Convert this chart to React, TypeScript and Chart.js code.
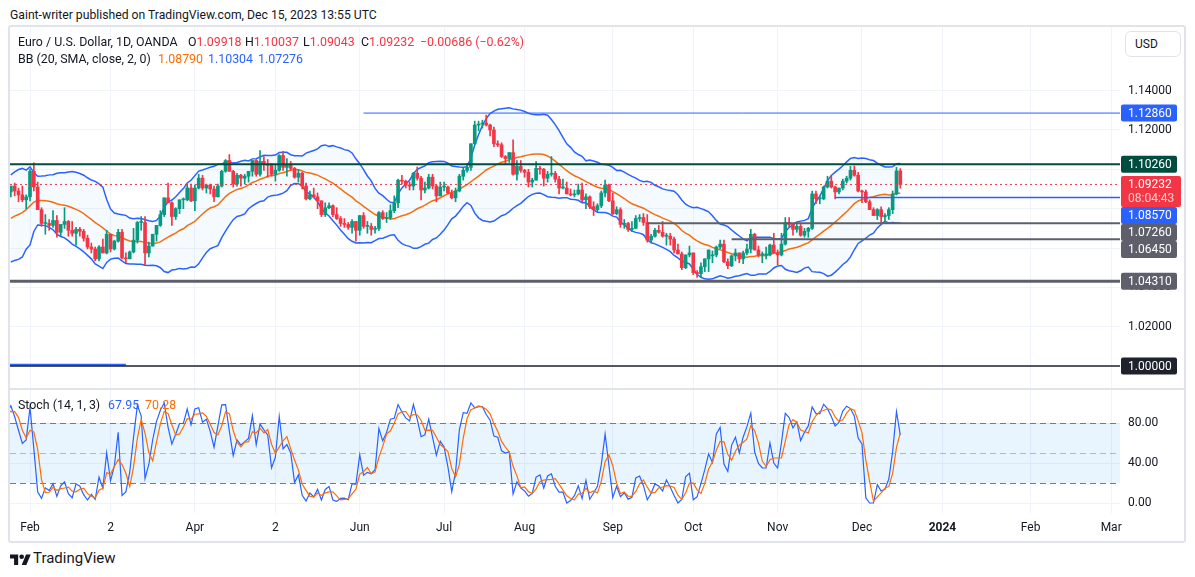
import { useEffect, useRef } from "react"
import { Chart, registerables } from "chart.js"

Chart.register(...registerables)

const FONT = "Roboto, 'Noto Sans', Arial, sans-serif"
const TEXT = "#131722"
const UP = "#089981"
const DOWN = "#F23645"
const BLUE = "#2962FF"
const ORANGE = "#FF6D00"
const GRID = "#F0F3FA"
const GRAY = "#5D606B"

// EUR/USD daily sessions (OANDA), 29 Dec 2022 .. 15 Dec 2023
// bar numbering: 1 Feb 2023 is bar 0, so the first session is bar -24
const firstBar = -24

const opens = [
  1.0613, 1.0660, 1.0700, 1.0665, 1.0550, 1.0605, 1.0520, 1.0645, 1.0730, 1.0735, 1.0760, 1.0850, 1.0830, 1.0820, 1.0790, 1.0795, 1.0830, 1.0855, 1.0870, 1.0885, 1.0915, 1.0890, 1.0870, 1.0845,
  1.0860, 1.0990, 1.0910, 1.0795, 1.0725, 1.0725, 1.0715, 1.0740, 1.0680, 1.0720, 1.0735, 1.0690, 1.0675, 1.0695, 1.0685, 1.0650, 1.0605, 1.0595, 1.0545, 1.0605,
  1.0575, 1.0670, 1.0595, 1.0635, 1.0680, 1.0550, 1.0545, 1.0580, 1.0640, 1.0730, 1.0730, 1.0575, 1.0610, 1.0670, 1.0715, 1.0770, 1.0855, 1.0830, 1.0760, 1.0800, 1.0845, 1.0845, 1.0905,
  1.0840, 1.0905, 1.0955, 1.0905, 1.0920, 1.0900, 1.0860, 1.0915, 1.0990, 1.1045, 1.0990, 1.0925, 1.0970, 1.0955, 1.0965, 1.0990, 1.1045, 1.0975, 1.1040, 1.1025,
  1.1020, 1.0975, 1.0995, 1.1070, 1.1010, 1.1020, 1.1005, 1.0960, 1.0980, 1.0915, 1.0850, 1.0870, 1.0860, 1.0840, 1.0770, 1.0805, 1.0815, 1.0770, 1.0750, 1.0725, 1.0720, 1.0705, 1.0735,
  1.0690, 1.0765, 1.0710, 1.0710, 1.0695, 1.0700, 1.0780, 1.0750, 1.0755, 1.0790, 1.0830, 1.0945, 1.0940, 1.0920, 1.0915, 1.0980, 1.0955, 1.0895, 1.0905, 1.0960, 1.0915, 1.0865,
  1.0910, 1.0910, 1.0880, 1.0855, 1.0890, 1.0965, 1.0995, 1.1010, 1.1130, 1.1225, 1.1230, 1.1235, 1.1225, 1.1200, 1.1130, 1.1125, 1.1065, 1.1055, 1.1085, 1.0975, 1.1015,
  1.0995, 1.0985, 1.0935, 1.0945, 1.1005, 1.1000, 1.0955, 1.0975, 1.0980, 1.0950, 1.0905, 1.0905, 1.0875, 1.0870, 1.0875, 1.0895, 1.0845, 1.0860, 1.0810, 1.0795, 1.0815, 1.0880, 1.0920,
  1.0840, 1.0775, 1.0795, 1.0720, 1.0725, 1.0695, 1.0700, 1.0750, 1.0755, 1.0730, 1.0640, 1.0660, 1.0690, 1.0680, 1.0660, 1.0660, 1.0645, 1.0590, 1.0570, 1.0500, 1.0565,
  1.0575, 1.0475, 1.0470, 1.0505, 1.0545, 1.0560, 1.0565, 1.0605, 1.0620, 1.0530, 1.0510, 1.0560, 1.0575, 1.0545, 1.0575, 1.0595, 1.0670, 1.0590, 1.0565, 1.0565, 1.0565, 1.0615,
  1.0575, 1.0565, 1.0620, 1.0730, 1.0720, 1.0695, 1.0710, 1.0665, 1.0685, 1.0700, 1.0875, 1.0850, 1.0850, 1.0910, 1.0940, 1.0910, 1.0885, 1.0905, 1.0940, 1.0955, 1.0995, 1.0970,
  1.0890, 1.0885, 1.0835, 1.0795, 1.0765, 1.0795, 1.0760, 1.0765, 1.0795, 1.0875, 1.09918,
]

const highs = [
  1.0673, 1.0713, 1.0713, 1.0684, 1.0636, 1.0620, 1.0650, 1.0760, 1.0760, 1.0775, 1.0865, 1.0870, 1.0875, 1.0870, 1.0887, 1.0835, 1.0860, 1.0927, 1.0885, 1.0915, 1.0930, 1.0905, 1.0915, 1.0870,
  1.1000, 1.1033, 1.0935, 1.0805, 1.0770, 1.0745, 1.0790, 1.0765, 1.0720, 1.0805, 1.0740, 1.0735, 1.0705, 1.0705, 1.0695, 1.0665, 1.0625, 1.0605, 1.0612, 1.0645,
  1.0690, 1.0670, 1.0640, 1.0695, 1.0695, 1.0575, 1.0585, 1.0700, 1.0735, 1.0760, 1.0760, 1.0630, 1.0670, 1.0715, 1.0790, 1.0855, 1.0930, 1.0835, 1.0805, 1.0845, 1.0855, 1.0925, 1.0925,
  1.0920, 1.0975, 1.0970, 1.0925, 1.0925, 1.0915, 1.0925, 1.0995, 1.1050, 1.1075, 1.0995, 1.0980, 1.0975, 1.0975, 1.0990, 1.1045, 1.1050, 1.1095, 1.1065, 1.1050,
  1.1030, 1.1025, 1.1075, 1.1092, 1.1055, 1.1040, 1.1010, 1.1000, 1.0985, 1.0930, 1.0890, 1.0905, 1.0880, 1.0840, 1.0830, 1.0830, 1.0820, 1.0805, 1.0760, 1.0750, 1.0730, 1.0745, 1.0735,
  1.0765, 1.0780, 1.0735, 1.0725, 1.0710, 1.0785, 1.0790, 1.0780, 1.0820, 1.0865, 1.0950, 1.0970, 1.0945, 1.0935, 1.0985, 1.1012, 1.0965, 1.0935, 1.0975, 1.0975, 1.0920, 1.0935,
  1.0935, 1.0915, 1.0895, 1.0905, 1.0975, 1.1005, 1.1030, 1.1130, 1.1245, 1.1245, 1.1250, 1.1276, 1.1230, 1.1215, 1.1145, 1.1135, 1.1070, 1.1085, 1.1150, 1.1045, 1.1045,
  1.1000, 1.1000, 1.0955, 1.1040, 1.1015, 1.1005, 1.0990, 1.1065, 1.0990, 1.0965, 1.0950, 1.0935, 1.0900, 1.0895, 1.0925, 1.0930, 1.0875, 1.0865, 1.0835, 1.0825, 1.0890, 1.0945, 1.0925,
  1.0880, 1.0810, 1.0805, 1.0745, 1.0730, 1.0735, 1.0765, 1.0770, 1.0775, 1.0770, 1.0670, 1.0700, 1.0715, 1.0735, 1.0675, 1.0675, 1.0655, 1.0620, 1.0580, 1.0565, 1.0610,
  1.0575, 1.0485, 1.0525, 1.0545, 1.0590, 1.0585, 1.0610, 1.0640, 1.0640, 1.0545, 1.0565, 1.0595, 1.0575, 1.0585, 1.0620, 1.0695, 1.0675, 1.0610, 1.0580, 1.0605, 1.0620, 1.0675,
  1.0590, 1.0675, 1.0755, 1.0755, 1.0725, 1.0720, 1.0720, 1.0700, 1.0705, 1.0890, 1.0890, 1.0865, 1.0915, 1.0965, 1.0965, 1.0915, 1.0905, 1.0950, 1.0965, 1.1015, 1.1017, 1.0985,
  1.0895, 1.0895, 1.0845, 1.0805, 1.0800, 1.0810, 1.0775, 1.0805, 1.0890, 1.1010, 1.10037,
]

const lows = [
  1.0610, 1.0635, 1.0653, 1.0520, 1.0550, 1.0510, 1.0483, 1.0640, 1.0710, 1.0720, 1.0740, 1.0780, 1.0800, 1.0765, 1.0765, 1.0765, 1.0800, 1.0850, 1.0835, 1.0860, 1.0865, 1.0835, 1.0835, 1.0800,
  1.0840, 1.0890, 1.0795, 1.0710, 1.0670, 1.0690, 1.0705, 1.0655, 1.0660, 1.0700, 1.0660, 1.0660, 1.0615, 1.0660, 1.0635, 1.0595, 1.0575, 1.0535, 1.0535, 1.0575,
  1.0570, 1.0580, 1.0590, 1.0630, 1.0545, 1.0525, 1.0545, 1.0575, 1.0625, 1.0690, 1.0515, 1.0555, 1.0610, 1.0635, 1.0710, 1.0760, 1.0830, 1.0715, 1.0745, 1.0775, 1.0800, 1.0840, 1.0835,
  1.0790, 1.0900, 1.0895, 1.0880, 1.0875, 1.0835, 1.0860, 1.0910, 1.0985, 1.0990, 1.0910, 1.0915, 1.0915, 1.0925, 1.0935, 1.0965, 1.0965, 1.0965, 1.0995, 1.0960,
  1.0965, 1.0940, 1.0990, 1.0995, 1.0965, 1.0995, 1.0955, 1.0935, 1.0900, 1.0845, 1.0845, 1.0855, 1.0800, 1.0760, 1.0760, 1.0800, 1.0760, 1.0745, 1.0710, 1.0705, 1.0695, 1.0675, 1.0635,
  1.0665, 1.0700, 1.0675, 1.0665, 1.0675, 1.0690, 1.0745, 1.0730, 1.0745, 1.0780, 1.0805, 1.0925, 1.0905, 1.0895, 1.0895, 1.0945, 1.0845, 1.0880, 1.0900, 1.0900, 1.0835, 1.0865,
  1.0890, 1.0875, 1.0850, 1.0835, 1.0885, 1.0945, 1.0985, 1.0995, 1.1125, 1.1195, 1.1210, 1.1220, 1.1170, 1.1115, 1.1115, 1.1060, 1.1025, 1.1035, 1.0970, 1.0945, 1.0985,
  1.0960, 1.0910, 1.0910, 1.0945, 1.0975, 1.0915, 1.0935, 1.0965, 1.0935, 1.0875, 1.0900, 1.0875, 1.0865, 1.0860, 1.0870, 1.0835, 1.0800, 1.0800, 1.0765, 1.0785, 1.0805, 1.0860, 1.0835,
  1.0770, 1.0770, 1.0705, 1.0700, 1.0685, 1.0685, 1.0700, 1.0735, 1.0715, 1.0630, 1.0630, 1.0655, 1.0675, 1.0655, 1.0615, 1.0615, 1.0575, 1.0570, 1.0490, 1.0495, 1.0555,
  1.0465, 1.0450, 1.0450, 1.0480, 1.0480, 1.0525, 1.0555, 1.0595, 1.0525, 1.0495, 1.0505, 1.0535, 1.0525, 1.0520, 1.0565, 1.0575, 1.0590, 1.0555, 1.0525, 1.0545, 1.0560, 1.0575,
  1.0515, 1.0560, 1.0615, 1.0705, 1.0665, 1.0680, 1.0660, 1.0655, 1.0655, 1.0695, 1.0825, 1.0825, 1.0845, 1.0905, 1.0905, 1.0850, 1.0875, 1.0895, 1.0930, 1.0945, 1.0965, 1.0885,
  1.0830, 1.0830, 1.0795, 1.0765, 1.0745, 1.0725, 1.0730, 1.0745, 1.0775, 1.0870, 1.09043,
]

const closes = [
  1.0660, 1.0705, 1.0665, 1.0550, 1.0605, 1.0520, 1.0645, 1.0730, 1.0735, 1.0760, 1.0850, 1.0830, 1.0820, 1.0790, 1.0795, 1.0830, 1.0855, 1.0870, 1.0885, 1.0915, 1.0890, 1.0870, 1.0845, 1.0860,
  1.0990, 1.0910, 1.0795, 1.0725, 1.0725, 1.0715, 1.0740, 1.0680, 1.0720, 1.0735, 1.0690, 1.0675, 1.0695, 1.0685, 1.0650, 1.0605, 1.0595, 1.0545, 1.0605, 1.0575,
  1.0670, 1.0595, 1.0635, 1.0680, 1.0550, 1.0545, 1.0580, 1.0640, 1.0730, 1.0730, 1.0575, 1.0610, 1.0670, 1.0715, 1.0770, 1.0855, 1.0830, 1.0760, 1.0800, 1.0845, 1.0845, 1.0905, 1.0840,
  1.0905, 1.0955, 1.0905, 1.0920, 1.0900, 1.0860, 1.0915, 1.0990, 1.1045, 1.0990, 1.0925, 1.0970, 1.0955, 1.0965, 1.0990, 1.1045, 1.0975, 1.1040, 1.1025, 1.1020,
  1.0975, 1.0995, 1.1070, 1.1010, 1.1020, 1.1005, 1.0960, 1.0980, 1.0915, 1.0850, 1.0870, 1.0860, 1.0840, 1.0770, 1.0805, 1.0815, 1.0770, 1.0750, 1.0725, 1.0720, 1.0705, 1.0735, 1.0690,
  1.0765, 1.0710, 1.0710, 1.0695, 1.0700, 1.0780, 1.0750, 1.0755, 1.0790, 1.0830, 1.0945, 1.0940, 1.0920, 1.0915, 1.0980, 1.0955, 1.0895, 1.0905, 1.0960, 1.0915, 1.0865, 1.0910,
  1.0910, 1.0880, 1.0855, 1.0890, 1.0965, 1.0995, 1.1010, 1.1130, 1.1225, 1.1230, 1.1235, 1.1225, 1.1200, 1.1130, 1.1125, 1.1065, 1.1055, 1.1085, 1.0975, 1.1015, 1.0995,
  1.0985, 1.0935, 1.0945, 1.1005, 1.1000, 1.0955, 1.0975, 1.0980, 1.0950, 1.0905, 1.0905, 1.0875, 1.0870, 1.0875, 1.0895, 1.0845, 1.0860, 1.0810, 1.0795, 1.0815, 1.0880, 1.0920, 1.0840,
  1.0775, 1.0795, 1.0720, 1.0725, 1.0695, 1.0700, 1.0750, 1.0755, 1.0730, 1.0640, 1.0660, 1.0690, 1.0680, 1.0660, 1.0660, 1.0645, 1.0590, 1.0570, 1.0500, 1.0565, 1.0575,
  1.0475, 1.0470, 1.0505, 1.0545, 1.0590, 1.0565, 1.0605, 1.0620, 1.0530, 1.0510, 1.0560, 1.0575, 1.0545, 1.0575, 1.0595, 1.0670, 1.0590, 1.0565, 1.0565, 1.0565, 1.0615, 1.0575,
  1.0565, 1.0620, 1.0730, 1.0720, 1.0695, 1.0710, 1.0665, 1.0685, 1.0700, 1.0875, 1.0850, 1.0850, 1.0910, 1.0940, 1.0910, 1.0885, 1.0905, 1.0940, 1.0955, 1.0995, 1.0970, 1.0890,
  1.0885, 1.0835, 1.0795, 1.0765, 1.0795, 1.0760, 1.0765, 1.0795, 1.0875, 1.09918, 1.09232,
]

// time axis: bar of the first session under each label
const monthBars = [0, 21, 43, 64, 86, 108, 129, 152, 173, 195, 217, 238, 261, 282]
const monthLabels = ["Feb", "2", "Apr", "2", "Jun", "Jul", "Aug", "Sep", "Oct", "Nov", "Dec", "2024", "Feb", "Mar"]

const priceTicks = [1.0, 1.02, 1.04, 1.06, 1.08, 1.1, 1.12, 1.14]
const stochTicks = [0, 40, 80]

// horizontal drawings on the price pane
const levelPrices = [1.1286, 1.1026, 1.0857, 1.0726, 1.0645, 1.0431, 1.0, 1.0006]
const levelFrom = [87, -6, 210, 161, 183, -6, -6, -6]
const levelTo = [290, 290, 290, 290, 290, 290, 290, 25]
const levelColors = [BLUE, "#004D40", BLUE, GRAY, GRAY, GRAY, "#1E222D", BLUE]
const levelWidths = [1, 2, 1.5, 2, 2, 3, 1.5, 2]

// tags on the price scale
const tagPrices = [1.1286, 1.1026, 1.0857, 1.0726, 1.0645, 1.0431, 1.0]
const tagColors = [BLUE, "#004D40", BLUE, GRAY, GRAY, GRAY, "#1E222D"]
const countdown = "08:04:43"

// legend texts
const ohlcLetters = ["O", "H", "L", "C"]
const ohlcValues = ["1.09918", "1.10037", "1.09043", "1.09232"]
const changeText = "\u22120.00686 (\u22120.62%)"
const bbValues = ["1.08790", "1.10304", "1.07276"]
const stochValues = ["67.95", "70.28"]

// visible ranges
const X_MIN = -5.22
const X_MAX = 284.3
const P_MIN = 0.98833
const P_MAX = 1.17236
const S_MIN = -10
const S_MAX = 114

const bar = (i: number) => firstBar + i

function buildSeries() {
  const wicks: any[] = []
  const bodies: any[] = []
  const colors: string[] = []
  closes.forEach((c, i) => {
    const o = opens[i]
    wicks.push({ x: bar(i), y: [lows[i], highs[i]] })
    bodies.push({ x: bar(i), y: [Math.min(o, c), Math.max(o, c)] })
    colors.push(c >= o ? UP : DOWN)
  })

  // Bollinger Bands (20, 2)
  const basis: any[] = []
  const upper: any[] = []
  const lower: any[] = []
  for (let i = 19; i < closes.length; i++) {
    const win = closes.slice(i - 19, i + 1)
    const mean = win.reduce((a, b) => a + b, 0) / 20
    const sd = Math.sqrt(win.reduce((a, b) => a + (b - mean) ** 2, 0) / 20)
    basis.push({ x: bar(i), y: mean })
    upper.push({ x: bar(i), y: mean + 2 * sd })
    lower.push({ x: bar(i), y: mean - 2 * sd })
  }

  // Stochastic (14, 1, 3)
  const k: number[] = []
  const kPts: any[] = []
  const dPts: any[] = []
  for (let i = 13; i < closes.length; i++) {
    const hh = Math.max(...highs.slice(i - 13, i + 1))
    const ll = Math.min(...lows.slice(i - 13, i + 1))
    const v = (100 * (closes[i] - ll)) / (hh - ll)
    k.push(v)
    kPts.push({ x: bar(i), y: v })
    if (k.length >= 3) {
      const n = k.length
      dPts.push({ x: bar(i), y: (k[n - 1] + k[n - 2] + k[n - 3]) / 3 })
    }
  }
  return { wicks, bodies, colors, basis, upper, lower, kPts, dPts }
}

const stochBand = {
  id: "stochBand",
  beforeDatasetsDraw(chart: any) {
    const { ctx, chartArea } = chart
    const s = chart.scales.y2
    const y80 = s.getPixelForValue(80)
    const y50 = s.getPixelForValue(50)
    const y20 = s.getPixelForValue(20)
    ctx.save()
    ctx.fillStyle = "rgba(33,150,243,0.1)"
    ctx.fillRect(chartArea.left, y80, chartArea.right - chartArea.left, y20 - y80)
    ctx.lineWidth = 1
    ctx.setLineDash([6, 4])
    const dash = (y: number, color: string) => {
      ctx.strokeStyle = color
      ctx.beginPath()
      ctx.moveTo(chartArea.left, Math.round(y) + 0.5)
      ctx.lineTo(chartArea.right, Math.round(y) + 0.5)
      ctx.stroke()
    }
    dash(y80, "#787B86")
    dash(y50, "rgba(120,123,134,0.5)")
    dash(y20, "#787B86")
    ctx.setLineDash([])
    ctx.strokeStyle = "#E0E3EB"
    ctx.lineWidth = 2
    ctx.beginPath()
    ctx.moveTo(0, s.top)
    ctx.lineTo(chart.width, s.top)
    ctx.stroke()
    ctx.restore()
  },
}

const priceTags = {
  id: "priceTags",
  afterDraw(chart: any) {
    const { ctx } = chart
    const s = chart.scales.y
    const last = closes[closes.length - 1]
    const tags = tagPrices.map((p, i) => ({ p, color: tagColors[i], lines: [p.toFixed(5)], w: 56 }))
    tags.push({ p: last, color: DOWN, lines: [last.toFixed(5), countdown], w: 60 })
    tags.sort((a, b) => b.p - a.p)
    let prevBottom = -Infinity
    ctx.save()
    ctx.font = `12px ${FONT}`
    ctx.textBaseline = "middle"
    ctx.textAlign = "left"
    for (const t of tags) {
      const h = t.lines.length === 1 ? 17 : 31
      const top = Math.max(s.getPixelForValue(t.p) - 8.5, prevBottom)
      ctx.fillStyle = t.color
      ctx.beginPath()
      ctx.roundRect(s.left + 1, top, t.w, h, 2)
      ctx.fill()
      t.lines.forEach((txt, j) => {
        ctx.fillStyle = j === 0 ? "#FFFFFF" : "rgba(255,255,255,0.75)"
        ctx.fillText(txt, s.left + 8, top + 9 + j * 14)
      })
      prevBottom = top + h
    }
    ctx.restore()
  },
}

function PriceChart() {
  const chartRef = useRef<HTMLCanvasElement>(null)
  const chartInstance = useRef<Chart | null>(null)

  useEffect(() => {
    if (!chartRef.current) return
    if (chartInstance.current) chartInstance.current.destroy()

    const d = buildSeries()
    const last = closes[closes.length - 1]

    const levelSets = levelPrices.map((p, i) => ({
      type: "line" as const,
      data: [
        { x: levelFrom[i], y: p },
        { x: levelTo[i], y: p },
      ],
      borderColor: levelColors[i],
      borderWidth: levelWidths[i],
      pointRadius: 0,
      yAxisID: "y",
      order: 0,
    }))

    const fitSide = (s: any) => {
      s.width = 64
      s.paddingTop = 0
      s.paddingBottom = 0
    }

    chartInstance.current = new Chart(chartRef.current, {
      type: "bar",
      data: {
        datasets: [
          {
            type: "line",
            data: d.upper,
            borderColor: BLUE,
            borderWidth: 1.5,
            pointRadius: 0,
            fill: "+1",
            backgroundColor: "rgba(33,150,243,0.05)",
            yAxisID: "y",
            order: 3,
          },
          {
            type: "line",
            data: d.lower,
            borderColor: BLUE,
            borderWidth: 1.5,
            pointRadius: 0,
            fill: false,
            yAxisID: "y",
            order: 3,
          },
          {
            type: "line",
            data: d.basis,
            borderColor: ORANGE,
            borderWidth: 1.5,
            pointRadius: 0,
            yAxisID: "y",
            order: 3,
          },
          {
            type: "bar",
            data: d.wicks,
            backgroundColor: d.colors,
            barThickness: 1,
            grouped: false,
            yAxisID: "y",
            order: 2,
          },
          {
            type: "bar",
            data: d.bodies,
            backgroundColor: d.colors,
            barThickness: 3,
            minBarLength: 1,
            grouped: false,
            yAxisID: "y",
            order: 1,
          },
          ...levelSets,
          {
            type: "line",
            data: [
              { x: X_MIN, y: last },
              { x: X_MAX, y: last },
            ],
            borderColor: DOWN,
            borderWidth: 1,
            borderDash: [2, 3],
            pointRadius: 0,
            yAxisID: "y",
            order: 0,
          },
          {
            type: "line",
            data: d.kPts,
            borderColor: BLUE,
            borderWidth: 1.2,
            pointRadius: 0,
            yAxisID: "y2",
            order: 1,
          },
          {
            type: "line",
            data: d.dPts,
            borderColor: ORANGE,
            borderWidth: 1.2,
            pointRadius: 0,
            yAxisID: "y2",
            order: 0,
          },
        ] as any,
      },
      options: {
        animation: false,
        responsive: false,
        events: [],
        layout: { padding: 0 },
        plugins: {
          legend: { display: false },
          tooltip: { enabled: false },
        },
        scales: {
          x: {
            type: "linear",
            min: X_MIN,
            max: X_MAX,
            offset: false,
            border: { display: false },
            grid: { color: GRID, drawTicks: false, offset: false },
            afterBuildTicks: (s: any) => {
              s.ticks = monthBars.map((v) => ({ value: v }))
            },
            afterFit: (s: any) => {
              s.height = 28
              s.paddingLeft = 0
              s.paddingRight = 0
            },
            ticks: {
              autoSkip: false,
              maxRotation: 0,
              padding: 8,
              color: TEXT,
              font: (c: any) => ({
                family: FONT,
                size: 12,
                weight: c.tick && c.tick.label === "2024" ? "bold" : "normal",
              }),
              callback: (v: any) => {
                const k = monthBars.indexOf(v)
                return k >= 0 ? monthLabels[k] : ""
              },
            },
          },
          y: {
            type: "linear",
            position: "right",
            stack: "panes",
            stackWeight: 362,
            min: P_MIN,
            max: P_MAX,
            border: { display: false },
            grid: { color: GRID, drawTicks: false },
            afterBuildTicks: (s: any) => {
              s.ticks = priceTicks.map((v) => ({ value: v }))
            },
            afterFit: fitSide,
            ticks: {
              padding: 8,
              color: TEXT,
              font: { family: FONT, size: 12 },
              callback: (v: any) => Number(v).toFixed(5),
            },
          },
          y2: {
            type: "linear",
            position: "right",
            stack: "panes",
            stackWeight: 124,
            min: S_MIN,
            max: S_MAX,
            border: { display: false },
            grid: { color: GRID, drawTicks: false },
            afterBuildTicks: (s: any) => {
              s.ticks = stochTicks.map((v) => ({ value: v }))
            },
            afterFit: fitSide,
            ticks: {
              padding: 8,
              color: TEXT,
              font: { family: FONT, size: 12 },
              callback: (v: any) => Number(v).toFixed(2),
            },
          },
        },
      } as any,
      plugins: [stochBand, priceTags],
    })

    return () => {
      if (chartInstance.current) {
        chartInstance.current.destroy()
        chartInstance.current = null
      }
    }
  }, [])

  return (
    <canvas
      ref={chartRef}
      width={1174}
      height={514}
      style={{ position: "absolute", left: 10, top: 27, width: 1174, height: 514 }}
    />
  )
}

const abs = (left: number, top: number, extra: any = {}) => ({
  position: "absolute" as const,
  left,
  top,
  whiteSpace: "nowrap" as const,
  lineHeight: "16px",
  ...extra,
})

export default function App() {
  const ohlcX = [188, 245, 303, 361]
  return (
    <div
      style={{
        position: "absolute",
        left: 0,
        top: 0,
        width: 1195,
        height: 577,
        background: "#FFFFFF",
        fontFamily: FONT,
        color: TEXT,
        fontSize: 12.4,
        overflow: "hidden",
      }}
    >
      <div style={abs(10, 7, { fontSize: 12.2 })}>Gaint-writer published on TradingView.com, Dec 15, 2023 13:55 UTC</div>
      <div
        style={{
          position: "absolute",
          left: 8,
          top: 25,
          width: 1174,
          height: 514,
          border: "2px solid #E0E3EB",
          borderRadius: 3,
        }}
      />
      <PriceChart />

      <div style={abs(18, 34)}>Euro / U.S. Dollar, 1D, OANDA</div>
      {ohlcLetters.map((l, i) => (
        <div key={l} style={abs(ohlcX[i], 34)}>
          {l}
          <span style={{ color: DOWN }}>{ohlcValues[i]}</span>
        </div>
      ))}
      <div style={abs(420, 34, { color: DOWN })}>{changeText}</div>

      <div style={abs(18, 51)}>BB (20, SMA, close, 2, 0)</div>
      <div style={abs(158, 51, { color: ORANGE })}>{bbValues[0]}</div>
      <div style={abs(208, 51, { color: BLUE })}>{bbValues[1]}</div>
      <div style={abs(258, 51, { color: BLUE })}>{bbValues[2]}</div>

      <div style={abs(18, 397)}>Stoch (14, 1, 3)</div>
      <div style={abs(108, 397, { color: BLUE })}>{stochValues[0]}</div>
      <div style={abs(145, 397, { color: ORANGE })}>{stochValues[1]}</div>

      <div
        style={{
          position: "absolute",
          left: 1125,
          top: 31,
          width: 45,
          height: 24,
          border: "1px solid #E0E3EB",
          borderRadius: 6,
          background: "#FFFFFF",
          fontSize: 12,
          lineHeight: "24px",
          paddingLeft: 9,
          boxSizing: "content-box",
        }}
      >
        USD
      </div>

      <svg style={{ position: "absolute", left: 10, top: 552 }} width="21" height="13" viewBox="0 0 36 22">
        <path d="M14 22H7V11H0V4h14v18z M28 22h-8l7.5-18h8L28 22z" fill={TEXT} />
        <circle cx="20" cy="8" r="4" fill={TEXT} />
      </svg>
      <div style={abs(33, 549, { fontSize: 15, lineHeight: "18px" })}>TradingView</div>
    </div>
  )
}
